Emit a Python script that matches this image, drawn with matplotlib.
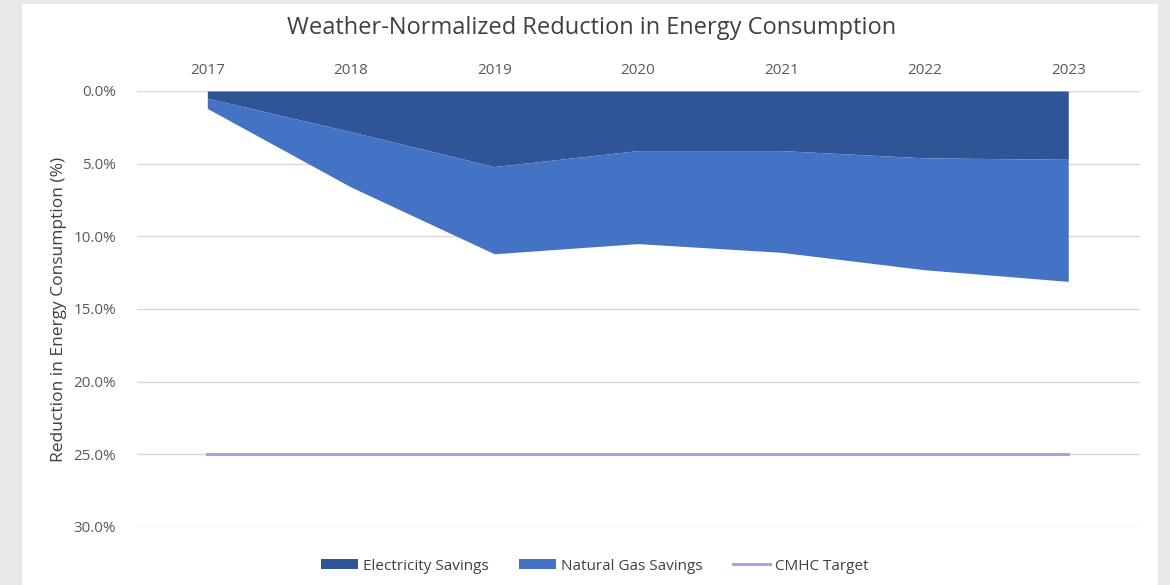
import numpy as np
import matplotlib.pyplot as plt
from matplotlib.patches import Rectangle

plt.rcParams.update({'font.family': ['Open Sans', 'DejaVu Sans']})

# values (reduction in %)
years = ['2017', '2018', '2019', '2020', '2021', '2022', '2023']
electricity = [0.5, 2.8, 5.2, 4.1, 4.1, 4.6, 4.7]
natural_gas = [0.7, 3.8, 6.0, 6.4, 7.0, 7.7, 8.4]
cmhc_target = [25.0, 25.0, 25.0, 25.0, 25.0, 25.0, 25.0]

x = np.arange(len(years))
elec = np.array(electricity)
total = elec + np.array(natural_gas)

fig = plt.figure(figsize=(11.7, 5.85), dpi=100, facecolor='#e7e8ea')
# white chart panel on the gray page
fig.patches.append(Rectangle((22 / 1170, 0), (1158 - 22) / 1170, 1 - 4 / 585,
                             transform=fig.transFigure, facecolor='white',
                             edgecolor='none', zorder=-5))
ax = fig.add_axes([137 / 1170, 1 - 527 / 585, (1140 - 137) / 1170, (527 - 91) / 585])
ax.set_facecolor('none')

ax.fill_between(x, 0, elec, color='#2f5597', lw=0, label='Electricity Savings', zorder=2)
ax.fill_between(x, elec, total, color='#4472c4', lw=0, label='Natural Gas Savings', zorder=2)
ax.plot(x, cmhc_target, color='#a3a3e6', lw=2.2, label='CMHC Target', zorder=3)

ax.set_ylim(30, 0)
ax.set_xlim(-0.49, 6.5)
ax.set_yticks(np.arange(0, 31, 5))
ax.set_yticklabels([f'{v:.1f}%' for v in np.arange(0, 31, 5)])
ax.set_xticks(x)
ax.set_xticklabels(years)
ax.xaxis.tick_top()
ax.tick_params(length=0, labelsize=11, colors='#595959')
ax.tick_params(axis='x', pad=9)
ax.tick_params(axis='y', pad=15)
ax.grid(axis='y', color='#d9d9d9', lw=1, zorder=0)
for s in ax.spines.values():
    s.set_visible(False)

ax.set_ylabel('Reduction in Energy Consumption (%)', fontsize=12.5, color='#404040', labelpad=5)
fig.text(592 / 1170, 1 - 28 / 585, 'Weather-Normalized Reduction in Energy Consumption',
         ha='center', va='center', fontsize=17, color='#404040')

handles, labels = ax.get_legend_handles_labels()
fig.legend(handles, labels, loc='center', bbox_to_anchor=(595 / 1170, 1 - 566 / 585),
           ncol=3, frameon=False, fontsize=11, labelcolor='#404040',
           handlelength=2.4, handleheight=0.6, columnspacing=2.0, handletextpad=0.35)

fig.savefig('out.png', dpi=100, facecolor=fig.get_facecolor())
